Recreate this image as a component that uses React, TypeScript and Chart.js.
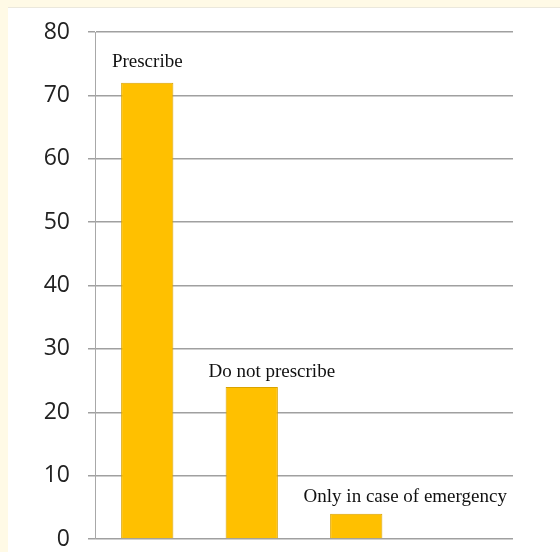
import React, { useEffect, useRef } from "react";
import { Chart, registerables } from "chart.js";

Chart.register(...registerables);

const categories = ["Prescribe", "Do not prescribe", "Only in case of emergency", ""];
const values: (number | null)[] = [72, 24, 4, null];
const barLabels = ["Prescribe", "Do not prescribe", "Only in case of emergency"];
const yTicks = [0, 10, 20, 30, 40, 50, 60, 70, 80];

const labelPlugin = {
  id: "barTopLabels",
  afterDatasetsDraw(chart: any, _args: any, opts: any) {
    const ctx = chart.ctx;
    const meta = chart.getDatasetMeta(0);
    ctx.save();
    ctx.font = "19px 'Liberation Serif', 'Times New Roman', serif";
    ctx.fillStyle = "#111";
    ctx.textAlign = "center";
    ctx.textBaseline = "alphabetic";
    barLabels.forEach((t, i) => {
      const el = meta.data[i];
      if (!el) return;
      const off = opts.offsets[i] || { dx: 0, dy: 0 };
      ctx.fillText(t, el.x + off.dx, el.y + off.dy);
    });
    ctx.restore();
  },
};

export default function App() {
  const ref = useRef<HTMLCanvasElement | null>(null);
  useEffect(() => {
    if (!ref.current) return;
    const chart = new Chart(ref.current, {
      type: "bar",
      data: {
        labels: categories,
        datasets: [
          {
            data: values,
            backgroundColor: "#FFC000",
            borderColor: "#D9A300",
            borderWidth: 1,
            categoryPercentage: 1,
            barPercentage: 0.5,
          },
        ],
      },
      options: {
        animation: false,
        responsive: false,
        maintainAspectRatio: false,
        layout: { padding: { top: 24, right: 47, bottom: 13, left: 0 } },
        plugins: {
          legend: { display: false },
          tooltip: { enabled: false },
          barTopLabels: {
            offsets: [
              { dx: 0, dy: -16 },
              { dx: 20, dy: -10 },
              { dx: 49, dy: -12 },
            ],
          },
        } as any,
        scales: {
          x: {
            display: false,
            grid: { display: false },
          },
          y: {
            min: 0,
            max: 80,
            afterFit: (s: any) => {
              s.width = 87;
              s.paddingTop = 0;
              s.paddingBottom = 0;
            },
            afterBuildTicks: (s: any) => {
              s.ticks = yTicks.map((v) => ({ value: v }));
            },
            border: { display: true, color: "#a8a8a8", width: 1 },
            grid: {
              color: "#a0a0a0",
              lineWidth: 1.5,
              drawTicks: true,
              tickLength: 7,
              tickColor: "#a0a0a0",
            },
            ticks: {
              padding: 18,
              color: "#222",
              font: { family: "'Open Sans', 'Liberation Sans', sans-serif", size: 23 },
            },
          },
        },
      },
      plugins: [labelPlugin],
    });
    return () => chart.destroy();
  }, []);
  return (
    <div style={{ position: "fixed", left: 0, top: 0, width: 560, height: 552, background: "#FFFAE6" }}>
      <div
        style={{
          position: "absolute",
          left: 8,
          top: 7,
          width: 552,
          height: 545,
          background: "#ffffff",
          borderTop: "1px solid #ebe8dc",
          boxSizing: "border-box",
        }}
      >
        <canvas ref={ref} width={552} height={544} style={{ display: "block", width: 552, height: 544 }} />
      </div>
    </div>
  );
}
